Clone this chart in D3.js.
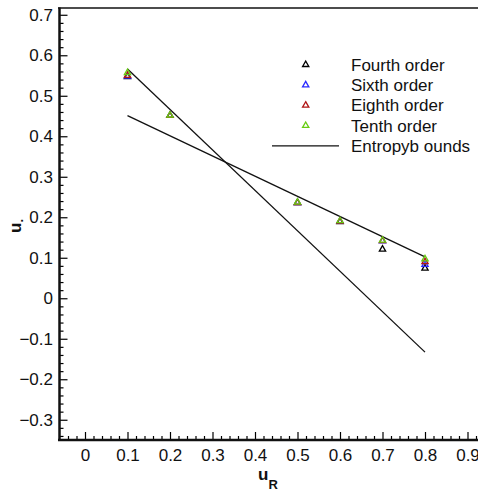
<!DOCTYPE html>
<html>
<head>
<meta charset="utf-8">
<script src="https://cdn.jsdelivr.net/npm/d3@7"></script>
<style>
  body { margin: 0; background: #fff; }
  text { font-family: "Liberation Sans", Arial, Helvetica, sans-serif; }
</style>
</head>
<body>
<svg width="478" height="492"></svg>
<script>
// data
let uR = [0.1, 0.2, 0.5, 0.6, 0.7, 0.8];
let fourth = [0.547, 0.451, 0.236, 0.189, 0.121, 0.074];
let sixth = [0.548, 0.451, 0.236, 0.190, 0.141, 0.083];
let eighth = [0.550, 0.451, 0.236, 0.190, 0.142, 0.090];
let tenth = [0.557, 0.452, 0.237, 0.191, 0.143, 0.097];
let boundX = [0.1, 0.8];
let boundUpper = [0.566, -0.133];
let boundLower = [0.451, 0.102];
let seriesNames = ["Fourth order", "Sixth order", "Eighth order", "Tenth order"];
let seriesColors = ["#000000", "#2a2aff", "#b01515", "#66cc11"];
let xTicks = [0, 0.1, 0.2, 0.3, 0.4, 0.5, 0.6, 0.7, 0.8, 0.9];
let yTicks = [-0.3, -0.2, -0.1, 0, 0.1, 0.2, 0.3, 0.4, 0.5, 0.6, 0.7];

var svg = d3.select("svg");

let x = d3.scaleLinear().domain([-0.06, 0.94]).range([59.5, 484.5]);
let y = d3.scaleLinear().domain([-0.35, 0.715]).range([440, 8.7]);

let xMinor = d3.range(-0.04, 0.94, 0.02).filter(function (v) { return Math.abs(v * 10 - Math.round(v * 10)) > 0.01 });
let yMinor = d3.range(-0.34, 0.715, 0.02).filter(function (v) { return Math.abs(v * 10 - Math.round(v * 10)) > 0.01 });

let fmt = function (d) { return Math.abs(d) < 1e-9 ? "0" : d3.format(".1f")(d) };

// minor ticks
svg.append("g").attr("transform", "translate(0,440)")
  .call(d3.axisBottom(x).tickValues(xMinor).tickSize(-4).tickFormat(""))
  .call(function (g) { g.select(".domain").remove() })
  .selectAll("line").attr("stroke-width", 1.2);
svg.append("g").attr("transform", "translate(59.5,0)")
  .call(d3.axisLeft(y).tickValues(yMinor).tickSize(-4).tickFormat(""))
  .call(function (g) { g.select(".domain").remove() })
  .selectAll("line").attr("stroke-width", 1.2);

// major ticks
let xAxis = svg.append("g").attr("transform", "translate(0,440)")
  .call(d3.axisBottom(x).tickValues(xTicks).tickSize(-8).tickPadding(9).tickFormat(fmt));
xAxis.select(".domain").remove();
xAxis.selectAll("line").attr("stroke-width", 1.2);
xAxis.selectAll("text").attr("font-size", 17).attr("fill", "#111");

let yAxis = svg.append("g").attr("transform", "translate(59.5,0)")
  .call(d3.axisLeft(y).tickValues(yTicks).tickSize(-8).tickPadding(6.5).tickFormat(fmt));
yAxis.select(".domain").remove();
yAxis.selectAll("line").attr("stroke-width", 1.2);
yAxis.selectAll("text").attr("font-size", 17).attr("fill", "#111");

// frame
svg.append("line").attr("x1", 58).attr("x2", 478).attr("y1", 8).attr("y2", 8)
  .attr("stroke", "#111").attr("stroke-width", 1.5);
svg.append("line").attr("x1", 59.5).attr("x2", 59.5).attr("y1", 7.5).attr("y2", 441)
  .attr("stroke", "#111").attr("stroke-width", 2.5);
svg.append("line").attr("x1", 58).attr("x2", 478).attr("y1", 440).attr("y2", 440)
  .attr("stroke", "#111").attr("stroke-width", 2.5);

// entropy bounds
let line = d3.line().x(function (d) { return x(d[0]) }).y(function (d) { return y(d[1]) });
[boundUpper, boundLower].forEach(function (b) {
  svg.append("path")
    .attr("d", line(boundX.map(function (v, i) { return [v, b[i]] })))
    .attr("fill", "none").attr("stroke", "#111").attr("stroke-width", 1.3);
});

// markers
let tri = d3.symbol().type(d3.symbolTriangle).size(17);
[fourth, sixth, eighth, tenth].forEach(function (vals, k) {
  svg.append("g").selectAll("path").data(vals).enter().append("path")
    .attr("d", tri)
    .attr("transform", function (d, i) { return "translate(" + x(uR[i]) + "," + y(d) + ")" })
    .attr("fill", "none")
    .attr("stroke", seriesColors[k])
    .attr("stroke-width", 1.3);
});

// legend
let legend = svg.append("g");
seriesNames.forEach(function (name, k) {
  let ly = 64.7 + k * 20.3;
  legend.append("path").attr("d", tri)
    .attr("transform", "translate(305.7," + ly + ")")
    .attr("fill", "none").attr("stroke", seriesColors[k]).attr("stroke-width", 1.3);
  legend.append("text").attr("x", 351).attr("y", ly + 6)
    .attr("font-size", 17).attr("fill", "#111").text(name);
});
legend.append("line").attr("x1", 272).attr("x2", 339).attr("y1", 145.8).attr("y2", 145.8)
  .attr("stroke", "#111").attr("stroke-width", 1.3);
legend.append("text").attr("x", 351).attr("y", 151.8)
  .attr("font-size", 17).attr("fill", "#111").text("Entropyb ounds");

// axis titles
let xt = svg.append("text").attr("x", 258).attr("y", 480)
  .attr("font-size", 17).attr("font-weight", "bold").attr("fill", "#111");
xt.append("tspan").text("u");
xt.append("tspan").attr("dy", 9).attr("font-size", 13).text("R");

let yt = svg.append("text").attr("transform", "translate(21,233) rotate(-90)")
  .attr("font-size", 17).attr("font-weight", "bold").attr("fill", "#111");
yt.append("tspan").text("u");
yt.append("tspan").attr("dy", 2).attr("font-size", 13).text(".");
</script>
</body>
</html>
